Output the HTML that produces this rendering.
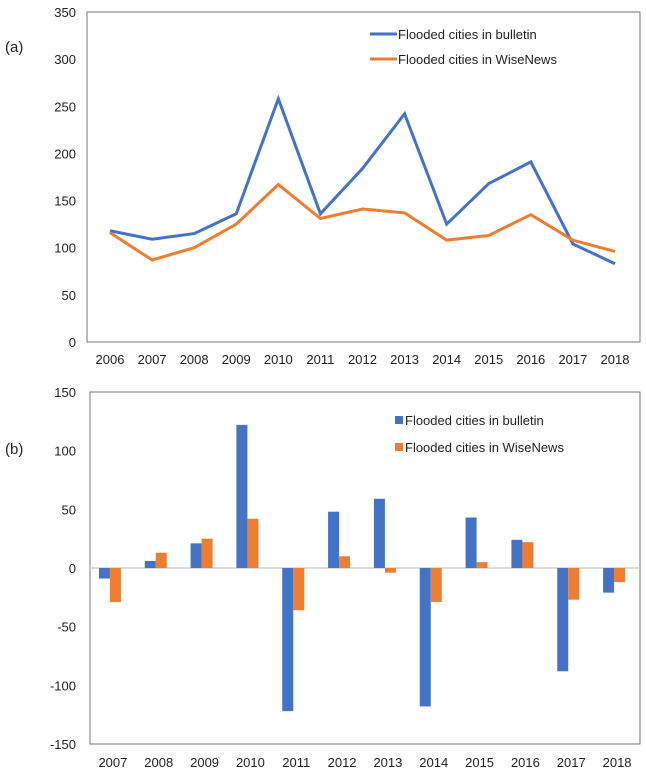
<!DOCTYPE html>
<html><head><meta charset="utf-8"><style>
body{margin:0;background:#fff}
svg{display:block;font-family:"Liberation Sans",Arial,sans-serif}
</style></head><body>
<svg id="c" width="646" height="773"></svg>
<script>
const years1=["2006","2007","2008","2009","2010","2011","2012","2013","2014","2015","2016","2017","2018"];
const bulletin=[118,109,115,136,258,136,184,242,125,168,191,104,83];
const wisenews=[116,87,100,125,167,131,141,137,108,113,135,108,96];
const ticks1=[0,50,100,150,200,250,300,350];
const years2=["2007","2008","2009","2010","2011","2012","2013","2014","2015","2016","2017","2018"];
const diffBulletin=[-9,6,21,122,-122,48,59,-118,43,24,-88,-21];
const diffWise=[-29,13,25,42,-36,10,-4,-29,5,22,-27,-12];
const ticks2=[-150,-100,-50,0,50,100,150];
const NS="http://www.w3.org/2000/svg";
const svg=document.getElementById('c');
function mk(t,a,p){const e=document.createElementNS(NS,t);for(const k in a)e.setAttribute(k,a[k]);(p||svg).appendChild(e);return e;}
function txt(x,y,s,anchor,size){const e=mk('text',{x:x,y:y,'font-size':size||13,'text-anchor':anchor||'start',fill:'#222'});e.textContent=s;return e;}
// Chart A
const gA=mk('g',{});


const ax0=87,ax1=640,ay0=342,ay1=12;
const yA=v=>ay0-(v/350)*(ay0-ay1);
const xA=i=>110+i*(615-110)/12;
const boxA=mk('rect',{x:ax0,y:ay1,width:ax1-ax0,height:ay0-ay1,fill:'none',stroke:'#777','stroke-width':1},gA);


ticks1.forEach(v=>{const t=txt(76,yA(v)+5,String(v),'end');});
years1.forEach((y,i)=>{const t=txt(xA(i),364,y,'middle');});
function line(arr,col,name){const p=mk('polyline',{points:arr.map((v,i)=>xA(i)+','+yA(v)).join(' '),fill:'none',stroke:col,'stroke-width':3,'stroke-linejoin':'miter'},gA);}
line(bulletin,'#4472C4','series-bulletin-line');
line(wisenews,'#ED7D31','series-wisenews-line');
const la=txt(5,52,'(a)','start',15);
let l1=mk('line',{x1:370,y1:34,x2:397,y2:34,stroke:'#4472C4','stroke-width':3});
let t1=txt(398,39,'Flooded cities in bulletin');
let l2=mk('line',{x1:370,y1:59,x2:397,y2:59,stroke:'#ED7D31','stroke-width':3});
let t2=txt(398,64,'Flooded cities in WiseNews');
// Chart B
const bx0=90,bx1=640,by0=744,by1=392;
const yB=v=>by0-((v+150)/300)*(by0-by1);
const step=(bx1-bx0)/12;
const xB=i=>bx0+step*(i+0.5)-3;
const boxB=mk('rect',{x:bx0,y:by1,width:bx1-bx0,height:by0-by1,fill:'none',stroke:'#777','stroke-width':1});


const zl=mk('line',{x1:bx0,x2:bx1,y1:yB(0),y2:yB(0),stroke:'#d0d0d0','stroke-width':1.5});


ticks2.forEach(v=>{const t=txt(76,yB(v)+5,String(v),'end');});
years2.forEach((y,i)=>{const t=txt(xB(i)+3,767,y,'middle');});
const bw=11;
function bars(arr,col,off,name){arr.forEach((v,i)=>{const y=Math.min(yB(v),yB(0));const h=Math.abs(yB(v)-yB(0));const r=mk('rect',{x:xB(i)+off,y:y,width:bw,height:h,fill:col});});}
bars(diffBulletin,'#4472C4',-bw,'bar-bulletin');
bars(diffWise,'#ED7D31',0,'bar-wisenews');
const lb=txt(5,454,'(b)','start',15);
let s1=mk('rect',{x:395,y:416,width:8,height:8,fill:'#4472C4'});
let u1=txt(405,425,'Flooded cities in bulletin');
let s2=mk('rect',{x:395,y:443,width:8,height:8,fill:'#ED7D31'});
let u2=txt(405,452,'Flooded cities in WiseNews');
</script>
</body></html>
